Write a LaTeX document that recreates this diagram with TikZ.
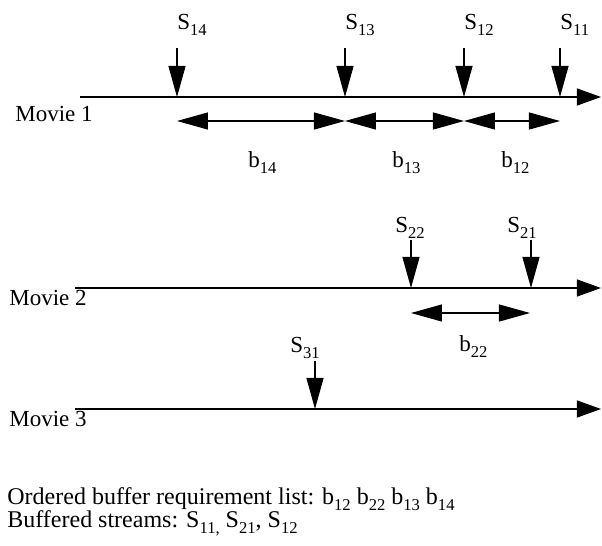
\documentclass[tikz,border=0pt]{standalone}
\usepackage{fontspec}
\setmainfont{Liberation Serif}
\usetikzlibrary{arrows.meta}

\newcommand{\subnum}[1]{\raisebox{-2.6pt}{\fontsize{8.3}{9}\selectfont #1}}

\tikzset{
  movieline/.style={line width=0.6pt, -{Triangle[length=12pt,width=8.5pt]}},
  streamarrow/.style={line width=0.6pt, -{Triangle[length=15.5pt,width=8.5pt]}},
  bufarrow/.style={line width=0.6pt, {Triangle[length=15.5pt,width=8.5pt]}-{Triangle[length=15.5pt,width=8.5pt]}},
  lbl/.style={anchor=base west, inner sep=0pt, font=\fontsize{11.5}{14}\selectfont},
  listlbl/.style={lbl, font=\fontsize{12}{14}\selectfont}
}

\begin{document}
\begin{tikzpicture}[x=0.5pt, y=-0.5pt]
\useasboundingbox (0,0) rectangle (602,546);

% Movie 1
\coordinate (m1s) at (80,97);
\coordinate (m1e) at (601,97);
\draw[movieline] (m1s) -- (m1e);
\node[lbl] (m1) at (15,121) {Movie 1};

\foreach \n/\x in {14/177,13/345,12/464,11/560}{
  \node[lbl] (s\n) at (\x,30) {S\subnum{\n}};
  \coordinate (t\n) at (\x,48);
  \coordinate (p\n) at (\x,97);
  \draw[streamarrow] (t\n) -- (p\n);
  \coordinate (d\n) at (\x,121);
}

\draw[bufarrow] (d14) -- (d13);
\draw[bufarrow] (d13) -- (d12);
\draw[bufarrow] (d12) -- (d11);

\node[lbl] (b14) at (248,168) {b\subnum{14}};
\node[lbl] (b13) at (392,168) {b\subnum{13}};
\node[lbl] (b12) at (501,168) {b\subnum{12}};

% Movie 2
\coordinate (m2s) at (75,288);
\coordinate (m2e) at (601,288);
\draw[movieline] (m2s) -- (m2e);
\node[lbl] (m2) at (9,306) {Movie 2};

\node[lbl] (s22) at (395,233) {S\subnum{22}};
\node[lbl] (s21) at (507,233) {S\subnum{21}};
\coordinate (t22) at (411,240);
\coordinate (p22) at (411,288);
\coordinate (t21) at (531,240);
\coordinate (p21) at (531,288);
\draw[streamarrow] (t22) -- (p22);
\draw[streamarrow] (t21) -- (p21);

\coordinate (d22) at (411,313);
\coordinate (d21) at (530,313);
\draw[bufarrow] (d22) -- (d21);
\node[lbl] (b22) at (459,352) {b\subnum{22}};

% Movie 3
\coordinate (m3s) at (75,409);
\coordinate (m3e) at (601,409);
\draw[movieline] (m3s) -- (m3e);
\node[lbl] (m3) at (9,427) {Movie 3};

\node[lbl] (s31) at (290,353) {S\subnum{31}};
\coordinate (t31) at (315,361);
\coordinate (p31) at (315,409);
\draw[streamarrow] (t31) -- (p31);

% lists
\node[listlbl] (order) at (7,505) {Ordered buffer requirement list: b\subnum{12} b\subnum{22} b\subnum{13} b\subnum{14}};
\node[listlbl] (buffered) at (7,528) {Buffered streams: S\subnum{11,} S\subnum{21}, S\subnum{12}};

\end{tikzpicture}
\end{document}
